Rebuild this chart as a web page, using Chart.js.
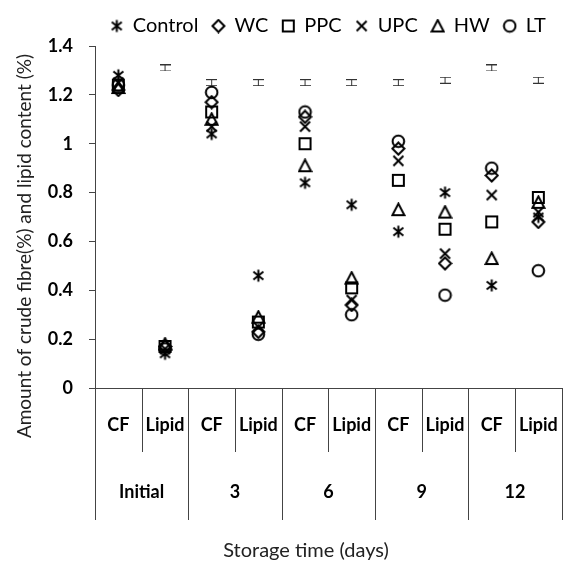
<!DOCTYPE html>
<html>
<head>
<meta charset="utf-8">
<script src="https://cdn.jsdelivr.net/npm/chart.js@4"></script>
<style>
  body { margin: 0; background: #fff; }
  #wrap { width: 585px; height: 562px; }
</style>
</head>
<body>
<div id="wrap"><canvas id="chart" width="585" height="562"></canvas></div>
<script>
// categories
const cats = ['CF', 'Lipid', 'CF', 'Lipid', 'CF', 'Lipid', 'CF', 'Lipid', 'CF', 'Lipid']
const groups = ['Initial', '3', '6', '9', '12']

// values
const control = [1.28, 0.14, 1.04, 0.46, 0.84, 0.75, 0.64, 0.80, 0.42, 0.70]
const wc = [1.22, 0.17, 1.17, 0.23, 1.11, 0.34, 0.98, 0.51, 0.87, 0.68]
const ppc = [1.24, 0.17, 1.13, 0.27, 1.00, 0.41, 0.85, 0.65, 0.68, 0.78]
const upc = [1.25, 0.16, 1.07, 0.25, 1.07, 0.36, 0.93, 0.55, 0.79, 0.72]
const hw = [1.23, 0.18, 1.10, 0.29, 0.91, 0.45, 0.73, 0.72, 0.53, 0.76]
const lt = [1.24, 0.16, 1.21, 0.22, 1.13, 0.30, 1.01, 0.38, 0.90, 0.48]
const errMark = [null, 1.31, 1.25, 1.25, 1.25, 1.25, 1.25, 1.26, 1.31, 1.26]

const FONT = 'Lato'

function marker(kind) {
    let s = 15
    let c = document.createElement('canvas')
    c.width = s
    c.height = s
    let g = c.getContext('2d')
    g.strokeStyle = '#000'
    g.lineWidth = 2
    g.beginPath()
    let m = s / 2
    if (kind == 'star') {
        g.moveTo(m, 1.5); g.lineTo(m, 13.5)
        g.moveTo(2.5, 3.5); g.lineTo(12.5, 11.5)
        g.moveTo(12.5, 3.5); g.lineTo(2.5, 11.5)
    } else if (kind == 'diamond') {
        g.moveTo(m, 1.5); g.lineTo(13.5, m); g.lineTo(m, 13.5); g.lineTo(1.5, m); g.closePath()
    } else if (kind == 'square') {
        g.rect(2, 2, 11, 11)
    } else if (kind == 'x') {
        g.moveTo(2.5, 2.5); g.lineTo(12.5, 12.5)
        g.moveTo(12.5, 2.5); g.lineTo(2.5, 12.5)
    } else if (kind == 'triangle') {
        g.moveTo(m, 1.5); g.lineTo(13.5, 13); g.lineTo(1.5, 13); g.closePath()
    } else if (kind == 'circle') {
        g.arc(m, m, 5.8, 0, Math.PI * 2)
    }
    g.stroke()
    return c
}

function errIcon() {
    let c = document.createElement('canvas')
    c.width = 11
    c.height = 7
    let g = c.getContext('2d')
    g.strokeStyle = '#333'
    g.lineWidth = 1
    g.beginPath()
    g.moveTo(0, 0.5); g.lineTo(11, 0.5)
    g.moveTo(0, 6.5); g.lineTo(11, 6.5)
    g.moveTo(5.5, 0); g.lineTo(5.5, 7)
    g.stroke()
    return c
}

function series(label, data, kind) {
    return {
        label: label,
        data: data,
        showLine: false,
        pointStyle: marker(kind),
        pointRadius: 6,
        borderColor: '#000',
        backgroundColor: '#000'
    }
}

const extras = {
    id: 'extras',
    afterDraw(chart) {
        let ctx = chart.ctx
        let x = chart.scales.x
        let top = chart.chartArea.bottom
        ctx.save()
        ctx.strokeStyle = '#444'
        ctx.lineWidth = 1
        for (let i = 0; i <= cats.length; i++) {
            let px = Math.round(x.getPixelForValue(i - 0.5)) + 0.5
            let end = i % 2 == 0 ? 520 : 452
            ctx.beginPath()
            ctx.moveTo(px, top)
            ctx.lineTo(px, end)
            ctx.stroke()
        }
        ctx.fillStyle = '#000'
        ctx.font = 'bold 18px ' + FONT
        ctx.textAlign = 'center'
        ctx.textBaseline = 'middle'
        groups.forEach(function (g, i) {
            ctx.fillText(g, x.getPixelForValue(2 * i + 0.5), 492)
        })
        ctx.fillStyle = '#222'
        ctx.font = '20px ' + FONT
        ctx.fillText('Storage time (days)', 306, 551)
        ctx.font = '19px ' + FONT
        ctx.translate(25, 246)
        ctx.rotate(-Math.PI / 2)
        ctx.fillText('Amount of crude fibre(%) and lipid content (%)', 0, 0)
        ctx.restore()
    }
}

let chart = new Chart(document.getElementById('chart').getContext('2d'), {
    type: 'line',
    data: {
        labels: cats,
        datasets: [
            series('Control', control, 'star'),
            series('WC', wc, 'diamond'),
            series('PPC', ppc, 'square'),
            series('UPC', upc, 'x'),
            series('HW', hw, 'triangle'),
            series('LT', lt, 'circle'),
            {
                label: 'err',
                data: errMark,
                showLine: false,
                pointStyle: errIcon(),
                pointRadius: 5
            }
        ]
    },
    options: {
        responsive: false,
        animation: false,
        layout: { padding: { left: 0, right: 0, top: 2, bottom: 0 } },
        plugins: {
            tooltip: { enabled: false },
            legend: {
                position: 'top',
                fullSize: false,
                labels: {
                    usePointStyle: true,
                    boxWidth: 12,
                    boxHeight: 12,
                    padding: 14,
                    color: '#000',
                    font: { family: FONT, size: 20 },
                    filter: function (item) { return item.text != 'err' }
                }
            }
        },
        scales: {
            x: {
                type: 'category',
                offset: true,
                grid: { display: false, drawTicks: false },
                border: { display: true, color: '#444' },
                ticks: {
                    padding: 26,
                    color: '#000',
                    maxRotation: 0,
                    autoSkip: false,
                    font: { family: FONT, size: 18, weight: 'bold' }
                },
                afterFit: function (s) { s.height = 174 }
            },
            y: {
                min: 0,
                max: 1.4,
                grid: { drawOnChartArea: false, drawTicks: true, tickLength: 6, color: '#444' },
                border: { display: true, color: '#444' },
                ticks: {
                    stepSize: 0.2,
                    padding: 16,
                    color: '#000',
                    font: { family: FONT, size: 18, weight: 'bold' },
                    callback: function (v) { return String(+v.toFixed(1)) }
                },
                afterFit: function (s) { s.width = 95 }
            }
        }
    },
    plugins: [extras]
})
</script>
</body>
</html>
